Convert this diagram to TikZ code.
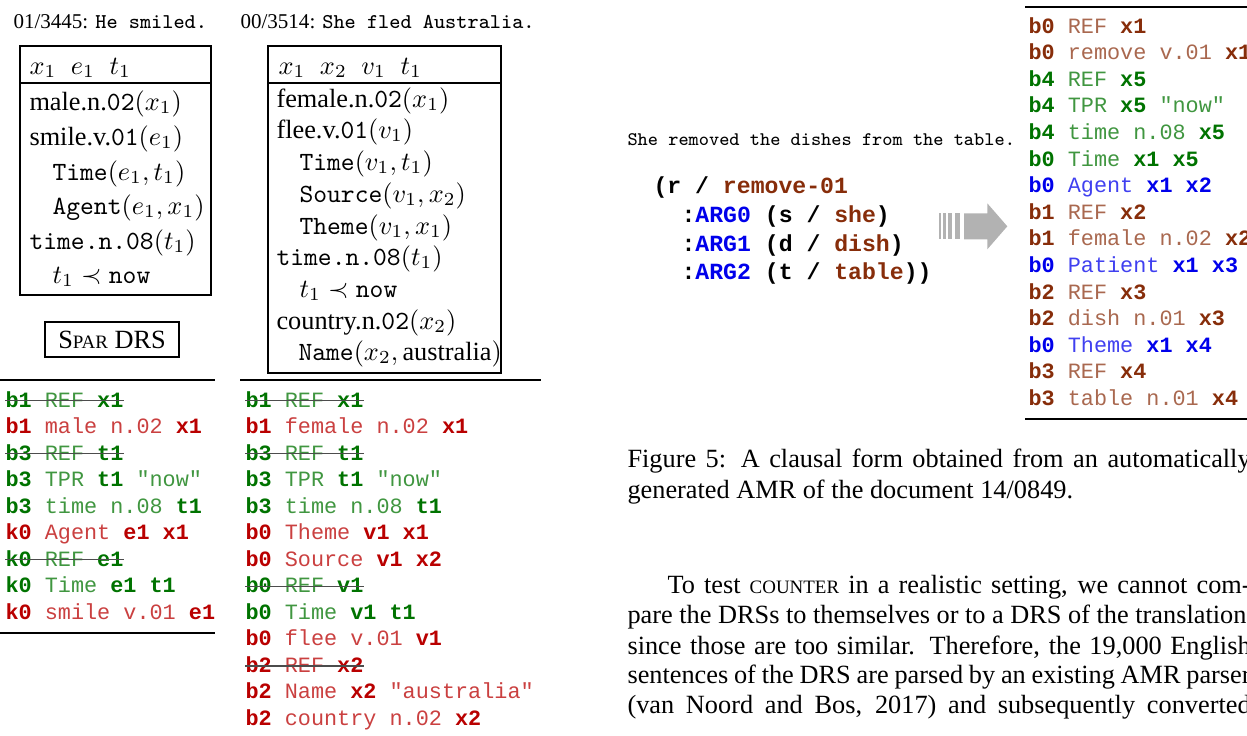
\documentclass[tikz,border=0pt]{standalone}
\usepackage[no-math]{fontspec}
\setmainfont{Liberation Serif}
\newfontfamily\courier{Liberation Mono}
\definecolor{clgreen}{RGB}{0,115,0}
\definecolor{clred}{RGB}{185,0,0}
\definecolor{clbrown}{RGB}{135,45,10}
\definecolor{clblue}{RGB}{0,0,235}
\definecolor{arrowgray}{RGB}{178,178,178}
\colorlet{keycol}{black}
\newcommand\fakesc[1]{{\fontsize{7.2}{8}\selectfont #1}}
\newcommand\B[1]{\textbf{\color{keycol}#1}}
\begin{document}
\begin{tikzpicture}[x=0.3802pt,y=-0.3802pt,
sentence/.style={anchor=base west,inner sep=0pt,font=\fontsize{8}{9.6}\selectfont},
drsrow/.style={anchor=base west,inner sep=0pt,font=\fontsize{10}{12}\selectfont},
drsbox/.style={line width=0.45pt},
tagbox/.style={draw,line width=0.45pt,minimum width=50.9pt,minimum height=13.3pt,inner sep=0pt,font=\fontsize{10}{12}\selectfont},
clause/.style={anchor=base west,inner sep=0pt,font=\courier\fontsize{8.3}{10}\selectfont},
gclause/.style={clause,text=clgreen!75!white,execute at begin node={\colorlet{keycol}{clgreen}}},
rclause/.style={clause,text=clred!75!white,execute at begin node={\colorlet{keycol}{clred}}},
nclause/.style={clause,text=clbrown!72!white,execute at begin node={\colorlet{keycol}{clbrown}}},
bclause/.style={clause,text=clblue!75!white,execute at begin node={\colorlet{keycol}{clblue}}},
amr/.style={anchor=base west,inner sep=0pt,font=\courier\bfseries\fontsize{8.8}{10.6}\selectfont},
hrule/.style={line width=0.6pt},
strike/.style={black!70,line width=0.4pt},
textline/.style={anchor=base west,inner sep=0pt,font=\fontsize{10}{12}\selectfont},
]
\useasboundingbox(0,0)rectangle(1247,735);
\clip(0,0)rectangle(1247,735);

%first drs
\node[sentence](hdA)at(13,28){01/3445: \texttt{He smiled.}};
\draw[drsbox](20,46)rectangle(211,295);
\draw[drsbox](20,83)--(211,83);
\node[drsrow](drsA0)at(29,74){$x_1\;\; e_1\;\; t_1$};
\node[drsrow](drsA1)at(29,110){male.n.\texttt{02}$(x_1)$};
\node[drsrow](drsA2)at(29,145){smile.v.\texttt{01}$(e_1)$};
\node[drsrow](drsA3)at(52,180){\texttt{Time}$(e_1,t_1)$};
\node[drsrow](drsA4)at(52,214){\texttt{Agent}$(e_1,x_1)$};
\node[drsrow](drsA5)at(29,249){\texttt{time.n.08}$(t_1)$};
\node[drsrow](drsA6)at(52,283){$t_1\prec{}$\texttt{now}};
\node[tagbox](spar)at(112,339.5){S\fakesc{PAR} DRS};

%second drs
\node[sentence](hdB)at(240,28){00/3514: \texttt{She fled Australia.}};
\draw[drsbox](268,46)rectangle(501,373);
\draw[drsbox](268,83)--(501,83);
\node[drsrow](drsB0)at(278,74){$x_1\;\; x_2\;\; v_1\;\; t_1$};
\node[drsrow](drsB1)at(276,107){female.n.\texttt{02}$(x_1)$};
\node[drsrow](drsB2)at(276,138){flee.v.\texttt{01}$(v_1)$};
\node[drsrow](drsB3)at(299,170){\texttt{Time}$(v_1,t_1)$};
\node[drsrow](drsB4)at(299,202){\texttt{Source}$(v_1,x_2)$};
\node[drsrow](drsB5)at(299,234){\texttt{Theme}$(v_1,x_1)$};
\node[drsrow](drsB6)at(276,265){\texttt{time.n.08}$(t_1)$};
\node[drsrow](drsB7)at(299,297){$t_1\prec{}$\texttt{now}};
\node[drsrow](drsB8)at(276,329){country.n.\texttt{02}$(x_2)$};
\node[drsrow](drsB9)at(298,360){\texttt{Name}$(x_2,\mbox{australia})$};

%first clauses
\draw[hrule](0,380)--(215,380);
\draw[hrule](0,633)--(215,633);
\node[gclause](clA1)at(5,407){\B{b1} REF \B{x1}};
\node[rclause](clA2)at(5,433.5){\B{b1} male n.02 \B{x1}};
\node[gclause](clA3)at(5,460){\B{b3} REF \B{t1}};
\node[gclause](clA4)at(5,486.5){\B{b3} TPR \B{t1} "now"};
\node[gclause](clA5)at(5,513){\B{b3} time n.08 \B{t1}};
\node[rclause](clA6)at(5,539.5){\B{k0} Agent \B{e1 x1}};
\node[gclause](clA7)at(5,566){\B{k0} REF \B{e1}};
\node[gclause](clA8)at(5,592.5){\B{k0} Time \B{e1 t1}};
\node[rclause](clA9)at(5,619){\B{k0} smile v.01 \B{e1}};
\draw[strike]([yshift=2.3pt]clA1.base west)--([yshift=2.3pt]clA1.base east);
\draw[strike]([yshift=2.3pt]clA3.base west)--([yshift=2.3pt]clA3.base east);
\draw[strike]([yshift=2.3pt]clA7.base west)--([yshift=2.3pt]clA7.base east);

%second clauses
\draw[hrule](240,380)--(541,380);
\node[gclause](clB1)at(245,407){\B{b1} REF \B{x1}};
\node[rclause](clB2)at(245,433.5){\B{b1} female n.02 \B{x1}};
\node[gclause](clB3)at(245,460){\B{b3} REF \B{t1}};
\node[gclause](clB4)at(245,486.5){\B{b3} TPR \B{t1} "now"};
\node[gclause](clB5)at(245,513){\B{b3} time n.08 \B{t1}};
\node[rclause](clB6)at(245,539.5){\B{b0} Theme \B{v1 x1}};
\node[rclause](clB7)at(245,566){\B{b0} Source \B{v1 x2}};
\node[gclause](clB8)at(245,592.5){\B{b0} REF \B{v1}};
\node[gclause](clB9)at(245,619){\B{b0} Time \B{v1 t1}};
\node[rclause](clB10)at(245,645.5){\B{b0} flee v.01 \B{v1}};
\node[rclause](clB11)at(245,672){\B{b2} REF \B{x2}};
\node[rclause](clB12)at(245,698.5){\B{b2} Name \B{x2} "australia"};
\node[rclause](clB13)at(245,725){\B{b2} country n.02 \B{x2}};
\draw[strike]([yshift=2.3pt]clB1.base west)--([yshift=2.3pt]clB1.base east);
\draw[strike]([yshift=2.3pt]clB3.base west)--([yshift=2.3pt]clB3.base east);
\draw[strike]([yshift=2.3pt]clB8.base west)--([yshift=2.3pt]clB8.base east);
\draw[strike]([yshift=2.3pt]clB11.base west)--([yshift=2.3pt]clB11.base east);

%amr
\node[anchor=base west,inner sep=0pt,font=\ttfamily\fontsize{7.3}{8.8}\selectfont](sent)at(627,145){She removed the dishes from the table.};
\node[amr](amr1)at(653,193){(r / \textcolor{clbrown}{remove-01}};
\node[amr](amr2)at(681,222){:\textcolor{clblue}{ARG0} (s / \textcolor{clbrown}{she})};
\node[amr](amr3)at(681,251){:\textcolor{clblue}{ARG1} (d / \textcolor{clbrown}{dish})};
\node[amr](amr4)at(681,279){:\textcolor{clblue}{ARG2} (t / \textcolor{clbrown}{table}))};

%arrow
\fill[arrowgray](939.3,213.3)rectangle(941,239.3);
\fill[arrowgray](943.3,213.3)rectangle(946,239.3);
\fill[arrowgray](948.3,213.3)rectangle(951.7,239.3);
\fill[arrowgray](955,213.3)rectangle(960,239.3);
\fill[arrowgray](964,213.3)--(987.3,213.3)--(987.3,203.3)--(1007.3,226.3)--(987.3,249.3)--(987.3,239.3)--(964,239.3)--cycle;

%clausal form
\draw[hrule](1025,7)--(1247,7);
\draw[hrule](1025,419)--(1247,419);
\node[nclause](clC1)at(1028,33){\B{b0} REF \B{x1}};
\node[nclause](clC2)at(1028,59.6){\B{b0} remove v.01 \B{x1}};
\node[gclause](clC3)at(1028,86.2){\B{b4} REF \B{x5}};
\node[gclause](clC4)at(1028,112.8){\B{b4} TPR \B{x5} "now"};
\node[gclause](clC5)at(1028,139.4){\B{b4} time n.08 \B{x5}};
\node[gclause](clC6)at(1028,166){\B{b0} Time \B{x1 x5}};
\node[bclause](clC7)at(1028,192.6){\B{b0} Agent \B{x1 x2}};
\node[nclause](clC8)at(1028,219.2){\B{b1} REF \B{x2}};
\node[nclause](clC9)at(1028,245.8){\B{b1} female n.02 \B{x2}};
\node[bclause](clC10)at(1028,272.4){\B{b0} Patient \B{x1 x3}};
\node[nclause](clC11)at(1028,299){\B{b2} REF \B{x3}};
\node[nclause](clC12)at(1028,325.6){\B{b2} dish n.01 \B{x3}};
\node[bclause](clC13)at(1028,352.2){\B{b0} Theme \B{x1 x4}};
\node[nclause](clC14)at(1028,378.8){\B{b3} REF \B{x4}};
\node[nclause](clC15)at(1028,405.4){\B{b3} table n.01 \B{x4}};

%caption
\node[textline](cap1)at(627,467){\makebox[236.9pt][s]{Figure 5: A clausal form obtained from an automatically}};
\node[textline](cap2)at(627,498){generated AMR of the document 14/0849.};

%paragraph
\node[textline](par1)at(667,593){\makebox[221.7pt][s]{To test \fakesc{COUNTER} in a realistic setting, we cannot com-}};
\node[textline](par2)at(627,623.3){\makebox[235.3pt][s]{pare the DRSs to themselves or to a DRS of the translation}};
\node[textline](par3)at(627,654){\makebox[236.9pt][s]{since those are too similar. Therefore, the 19,000 English}};
\node[textline](par4)at(627,683){\makebox[236.9pt][s]{sentences of the DRS are parsed by an existing AMR parser}};
\node[textline](par5)at(627,713){\makebox[236.9pt][s]{(van Noord and Bos, 2017) and subsequently converted}};
\end{tikzpicture}
\end{document}
